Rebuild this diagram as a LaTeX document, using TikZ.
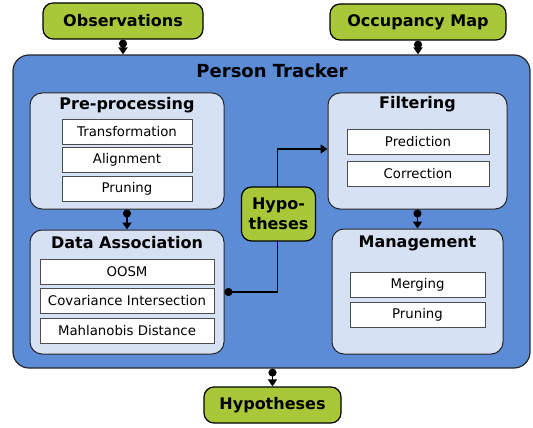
\documentclass[tikz,border=0pt]{standalone}
\usepackage{fontspec}
\setmainfont{DejaVu Sans}
\usetikzlibrary{arrows.meta}

\definecolor{termgreen}{RGB}{168,200,58}
\definecolor{trackblue}{RGB}{91,140,213}
\definecolor{stagefill}{RGB}{214,225,243}
\definecolor{edgegray}{RGB}{40,40,40}

\tikzset{
  terminal/.style={draw=black, line width=1.2pt, fill=termgreen, rounded corners=10pt,
    font=\fontsize{16}{19}\selectfont\bfseries, inner sep=0pt},
  tracker/.style={draw=edgegray, line width=1.2pt, fill=trackblue, rounded corners=16pt, inner sep=0pt},
  stage/.style={draw=edgegray, line width=1pt, fill=stagefill, rounded corners=12pt, inner sep=0pt},
  title/.style={font=\fontsize{16}{19}\selectfont\bfseries, inner sep=0pt},
  task/.style={draw=gray!60!black, line width=1pt, fill=white, inner sep=0pt,
    font=\fontsize{13.3}{16}\selectfont},
  flow/.style={line width=1.7pt,
    {Circle[length=8pt,width=8pt]}-{Triangle[length=7pt,width=9pt]}},
}

\begin{document}
\begin{tikzpicture}[x=1pt, y=-1pt]
  \useasboundingbox (0,0) rectangle (533,428);

  % inputs
  \node[terminal, minimum width=160pt, minimum height=36pt] (obs) at (123,21) {Observations};
  \node[terminal, minimum width=176pt, minimum height=36pt] (occ) at (418,22) {Occupancy Map};

  % tracker frame
  \node[tracker, minimum width=517pt, minimum height=313pt] (trk) at (271.5,211.5) {};
  \node[title, font=\fontsize{18}{21}\selectfont\bfseries] (trktitle) at (272,71) {Person Tracker};

  % pre-processing stage
  \node[stage, minimum width=194pt, minimum height=116pt] (pre) at (127,151) {};
  \node[title] (pretitle) at (127,105) {Pre-processing};
  \node[task, minimum width=130pt, minimum height=25pt] (trans) at (127,131.5) {Transformation};
  \node[task, minimum width=130pt, minimum height=25pt] (align) at (127,160) {Alignment};
  \node[task, minimum width=130pt, minimum height=25pt] (prune1) at (127,188.5) {Pruning};

  % data association stage
  \node[stage, minimum width=194pt, minimum height=124pt] (da) at (127,292) {};
  \node[title] (datitle) at (127,243) {Data Association};
  \node[task, minimum width=174pt, minimum height=25pt] (oosm) at (127,271.5) {OOSM};
  \node[task, minimum width=174pt, minimum height=25pt] (covint) at (127,300.5) {Covariance Intersection};
  \node[task, minimum width=174pt, minimum height=25pt] (mahal) at (127,330.5) {Mahlanobis Distance};

  % filtering stage
  \node[stage, minimum width=179pt, minimum height=116pt] (filt) at (417.5,151) {};
  \node[title] (filttitle) at (417.5,104) {Filtering};
  \node[task, minimum width=142pt, minimum height=25pt] (pred) at (418,141.5) {Prediction};
  \node[task, minimum width=142pt, minimum height=25pt] (corr) at (418,173.5) {Correction};

  % management stage
  \node[stage, minimum width=171pt, minimum height=125pt] (mgmt) at (417.5,291.5) {};
  \node[title] (mgmttitle) at (417.5,243) {Management};
  \node[task, minimum width=135pt, minimum height=25pt] (merge) at (417.5,284.5) {Merging};
  \node[task, minimum width=135pt, minimum height=25pt] (prune2) at (417.5,314.5) {Pruning};

  % output
  \node[terminal, minimum width=137pt, minimum height=36pt] (hypout) at (272.5,405) {Hypotheses};

  % connectors
  \draw[flow] (obs.south) -- (obs.south |- trk.north);
  \draw[flow] (occ.south) -- (occ.south |- trk.north);
  \draw[flow] (pre.south) -- (da.north);
  \draw[flow] (filt.south) -- (filt.south |- mgmt.north);
  \draw[flow] (trk.south -| hypout.north) -- (hypout.north);
  \draw[flow] (da.east) -- ++(53,0) |- ([yshift=2pt]filt.west);

  % hypotheses buffer sitting on the feedback line
  \node[terminal, minimum width=74pt, minimum height=54pt, align=center,
        font=\fontsize{16}{20}\selectfont\bfseries] (hypmid) at (278.5,214) {Hypo-\\theses};
\end{tikzpicture}
\end{document}
